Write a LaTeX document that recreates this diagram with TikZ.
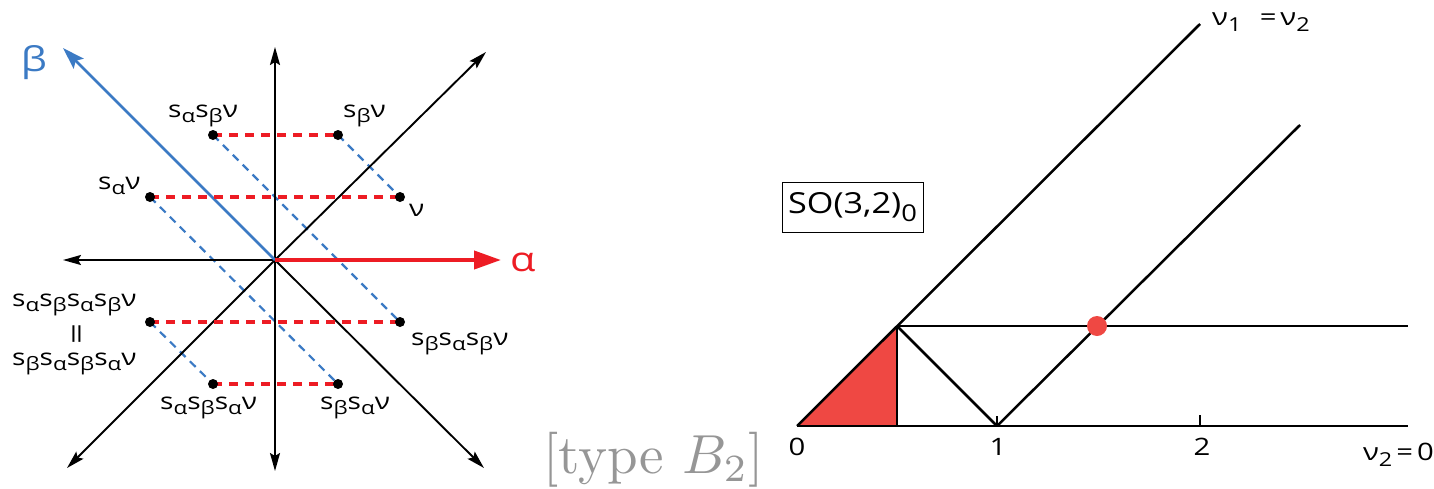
\documentclass[tikz,border=0pt]{standalone}
\usepackage{fontspec}
\usepackage{graphicx}
\newfontfamily\labf[FakeStretch=1.22]{Open Sans}
\newfontfamily\boxf[FakeStretch=1.18]{Open Sans}
\usetikzlibrary{arrows.meta}
\definecolor{rred}{RGB}{237,28,36}
\definecolor{rblue}{RGB}{59,122,196}
\definecolor{tred}{RGB}{239,72,67}
\definecolor{tgray}{RGB}{150,150,150}
\newcommand\sub[1]{\raisebox{-0.25em}{\scalebox{0.8}{#1}}}
\tikzset{
  axis/.style={line width=1.9pt, black},
  axarrow/.style={-{Stealth[length=18pt,width=10pt,inset=3pt]}},
  redax/.style={line width=4pt, rred, -{Triangle[length=27pt,width=18pt]}},
  blueax/.style={line width=2.8pt, rblue, -{Stealth[length=22pt,width=14pt,inset=4pt]}},
  reddash/.style={line width=3.5pt, rred, dash pattern=on 9pt off 7pt},
  bluedash/.style={line width=2.2pt, rblue, dash pattern=on 8pt off 6pt},
  dot/.style={circle, fill=black, inner sep=0pt, minimum size=10pt},
  lab/.style={inner sep=0pt, font=\labf\fontsize{23}{23}\selectfont},
  num/.style={inner sep=0pt, font=\labf\fontsize{24}{24}\selectfont},
  bline/.style={line width=2.5pt, black},
}
\begin{document}
\begin{tikzpicture}[x=1pt,y=-1pt]
\useasboundingbox (0,0) rectangle (1434,488);
% ---------- left diagram ----------
\coordinate (O) at (275,260);
\coordinate (Ntop) at (275,47);
\coordinate (Nbot) at (275,471);
\coordinate (Wl) at (63,260);
\coordinate (Er) at (501,260);
\coordinate (NE) at (486,52);
\coordinate (SW) at (67,468);
\coordinate (SE) at (484,468);
\coordinate (NW) at (63,48);
% orbit points
\coordinate (p1) at (400,197);   % nu
\coordinate (p2) at (338,135);   % s_b nu
\coordinate (p3) at (213,135);   % s_a s_b nu
\coordinate (p4) at (150,197);   % s_a nu
\coordinate (p5) at (400,322);   % s_b s_a s_b nu
\coordinate (p6) at (150,322);   % s_a s_b s_a s_b nu
\coordinate (p7) at (338,384);   % s_b s_a nu
\coordinate (p8) at (213,384);   % s_a s_b s_a nu
% dashed lines
\draw[bluedash] (p2) -- (p1);
\draw[bluedash] (p3) -- (p5);
\draw[bluedash] (p4) -- (p7);
\draw[bluedash] (p6) -- (p8);
\draw[axis, axarrow] (O) -- (Ntop);
\draw[axis, axarrow] (O) -- (Nbot);
\draw[axis, axarrow] (O) -- (Wl);
\draw[axis, axarrow] (O) -- (NE);
\draw[axis, axarrow] (O) -- (SW);
\draw[axis, axarrow] (O) -- (SE);
\draw[blueax] (O) -- (NW);
\draw[redax] (O) -- (Er);
\draw[reddash] (p3) -- (p2);
\draw[reddash] (p4) -- (p1);
\draw[reddash] (p6) -- (p5);
\draw[reddash] (p8) -- (p7);
\foreach \p in {p1,p2,p3,p4,p5,p6,p7,p8} \node[dot] at (\p) {};
% labels
\node[lab, anchor=base west] (l1) at (409,216) {ν};
\node[lab, anchor=base west] (l2) at (343,117) {s\sub{β}ν};
\node[lab, anchor=base west] (l3) at (168,117) {s\sub{α}s\sub{β}ν};
\node[lab, anchor=base west] (l4) at (98,189) {s\sub{α}ν};
\node[lab, anchor=base west] (l5) at (411,345) {s\sub{β}s\sub{α}s\sub{β}ν};
\node[lab, anchor=base west] (l6) at (12,306) {s\sub{α}s\sub{β}s\sub{α}s\sub{β}ν};
\node[inner sep=0pt, rotate=90, font=\labf\fontsize{30}{30}\selectfont] (leq) at (80,334) {=};
\node[lab, anchor=base west] (l6b) at (12,365) {s\sub{β}s\sub{α}s\sub{β}s\sub{α}ν};
\node[lab, anchor=base west] (l7) at (320,409) {s\sub{β}s\sub{α}ν};
\node[lab, anchor=base west] (l8) at (160,409) {s\sub{α}s\sub{β}s\sub{α}ν};
\node[inner sep=0pt, text=rblue, font=\labf\fontsize{34}{34}\selectfont] (beta) at (34,63) {β};
\node[inner sep=0pt, text=rred, font=\labf\fontsize{34}{34}\selectfont, anchor=west] (alpha) at (510,262) {α};
% type label
\node[inner sep=0pt, text=tgray, anchor=base west, font=\fontsize{10}{12}\selectfont] (type) at (543,473) {\scalebox{5.5}{[type $B_2$]}};
% ---------- right diagram ----------
\coordinate (Z0) at (797,426);
\coordinate (H) at (897,326);
\coordinate (Hb) at (897,426);
\coordinate (U1) at (997,426);
\coordinate (T2) at (1200,426);
\coordinate (T2t) at (1200,415);
\coordinate (U1t) at (997,416);
\coordinate (Bend) at (1408,426);
\coordinate (Uend) at (1408,326);
\coordinate (D1) at (1200,24);
\coordinate (D2) at (1300,125);
\coordinate (Rd) at (1097,326);
\fill[tred] (Z0) -- (H) -- (Hb) -- cycle;
\draw[bline] (Z0) -- (Bend);
\draw[bline] (H) -- (Uend);
\draw[bline] (Z0) -- (D1);
\draw[bline] (U1) -- (D2);
\draw[bline] (H) -- (Hb);
\draw[bline] (H) -- (U1);
\draw[line width=1.2pt] (U1) -- (U1t);
\draw[line width=1.2pt] (T2) -- (T2t);
\node[circle, fill=tred, inner sep=0pt, minimum size=20pt] (rdot) at (Rd) {};
\node[num] (n0) at (797,447) {0};
\node[num] (n1) at (998,447) {1};
\node[num] (n2) at (1202,447) {2};
\node[num, anchor=base east] (nv2) at (1434,460) {ν\sub{2}\,=\,0};
\node[num, anchor=base west] (nv12) at (1212,25) {ν\sub{1}\;\, =\,ν\sub{2}};
\node[draw, line width=1pt, inner sep=0pt, minimum width=141pt, minimum height=50pt,
      font=\boxf\fontsize{29}{29}\selectfont] (so) at (852.5,207) {SO(3,2)\sub{0}};
\end{tikzpicture}
\end{document}
